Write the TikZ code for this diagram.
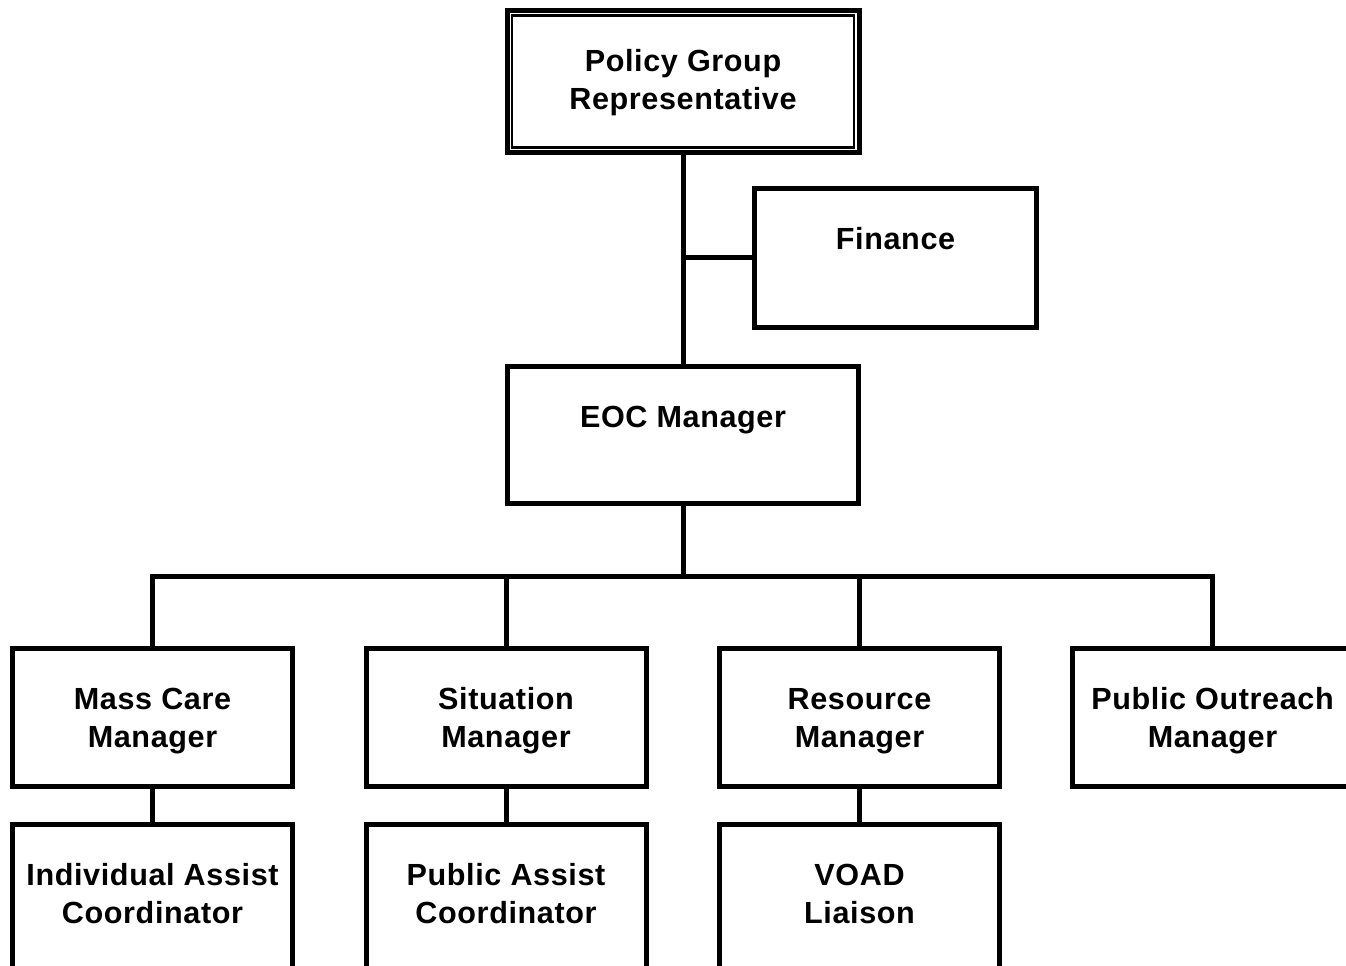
\documentclass[tikz,border=0pt]{standalone}
\usepackage{fontspec}
\setmainfont{Liberation Sans}[LetterSpace=2.0]
\newcommand{\orgtext}[3]{\parbox[c][#2][t]{#1}{\centering\rule{0pt}{12.2mm}#3}}
\tikzset{
  orgbox/.style={draw, line width=1mm, inner sep=0pt, font=\fontsize{17.4pt}{21.5pt}\selectfont\bfseries},
  link/.style={line width=1mm},
}
\begin{document}
\begin{tikzpicture}[x=0.2mm, y=-0.2mm]
  \clip (0,0) rectangle (1346,966);
  % top of the chart
  \node[orgbox] (policy) at (683,81.5) {\orgtext{70.4mm}{28.4mm}{Policy Group\\Representative}};
  \draw[line width=0.5mm] ([shift={(7.5,7.5)}]policy.north west) rectangle ([shift={(-7.5,-7.5)}]policy.south east);
  \node[orgbox] (finance) at (895.5,258) {\orgtext{56.4mm}{27.8mm}{Finance}};
  \node[orgbox] (eoc) at (683,435) {\orgtext{70.2mm}{27.4mm}{EOC Manager}};
  % managers
  \node[orgbox] (mass) at (152.5,717.5) {\orgtext{56mm}{27.6mm}{Mass Care\\Manager}};
  \node[orgbox] (situation) at (506,717.5) {\orgtext{56mm}{27.6mm}{Situation\\Manager}};
  \node[orgbox] (resource) at (859.5,717.5) {\orgtext{56mm}{27.6mm}{Resource\\Manager}};
  \node[orgbox] (outreach) at (1212.5,717.5) {\orgtext{56mm}{27.6mm}{Public Outreach\\Manager}};
  % coordinators
  \node[orgbox] (individual) at (152.5,898.5) {\orgtext{56mm}{29.6mm}{Individual Assist\\Coordinator}};
  \node[orgbox] (publicassist) at (506,898.5) {\orgtext{56mm}{29.6mm}{Public Assist\\Coordinator}};
  \node[orgbox] (voad) at (859.5,898.5) {\orgtext{56mm}{29.6mm}{VOAD\\Liaison}};
  % connectors
  \coordinate (bus) at (683,576);
  \draw[link] (policy.south) -- (eoc.north);
  \draw[link] (finance.west) -- (finance.west -| policy.south);
  \draw[link] (eoc.south) -- (bus);
  \draw[link] (mass.north) |- (bus) -| (outreach.north);
  \foreach \b in {situation,resource}
    \draw[link] (\b.north) -- (\b.north |- bus);
  \foreach \a/\b in {mass/individual,situation/publicassist,resource/voad}
    \draw[link] (\a.south) -- (\b.north);
\end{tikzpicture}
\end{document}
